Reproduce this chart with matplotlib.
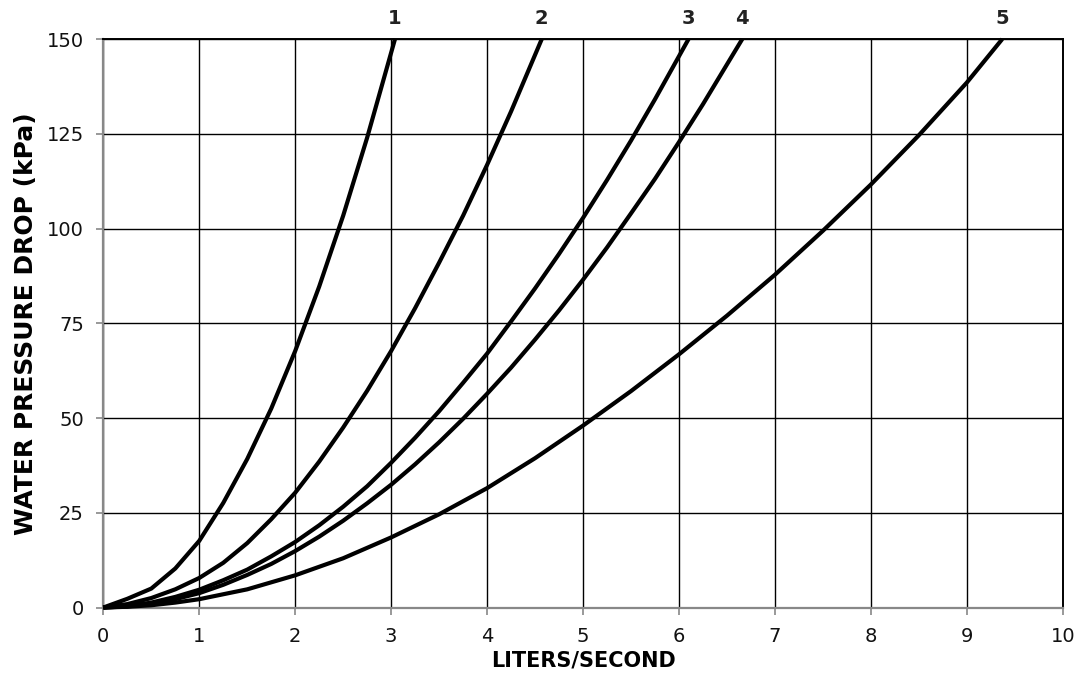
import matplotlib
matplotlib.use("Agg")
import matplotlib.pyplot as plt

plt.rcParams['font.family'] = ['DejaVu Sans']

# Curve data (liters/second vs water pressure drop kPa)
c1_x = [0, 0.25, 0.5, 0.75, 1.0, 1.25, 1.5, 1.75, 2.0, 2.25, 2.5, 2.75, 3.04]
c1_y = [0, 2.3, 5.0, 10.3, 17.6, 27.6, 39.2, 52.5, 67.7, 84.7, 103.4, 124.0, 150]

c2_x = [0, 0.25, 0.5, 0.75, 1.0, 1.25, 1.5, 1.75, 2.0, 2.25, 2.5, 2.75, 3.0, 3.25, 3.5, 3.75, 4.0, 4.25, 4.57]
c2_y = [0, 0.9, 2.5, 4.8, 7.8, 11.8, 17.0, 23.3, 30.3, 38.5, 47.5, 57.2, 67.7, 79.0, 91.0, 103.4, 116.8, 130.9, 150]

c3_x = [0, 0.25, 0.5, 0.75, 1.0, 1.25, 1.5, 1.75, 2.0, 2.25, 2.5, 2.75, 3.0, 3.25, 3.5, 3.75, 4.0,
        4.25, 4.5, 4.75, 5.0, 5.25, 5.5, 5.75, 6.1]
c3_y = [0, 0.35, 1.3, 2.8, 4.7, 7.2, 10.0, 13.5, 17.3, 21.7, 26.6, 32.0, 38.2, 44.8, 51.8, 59.3, 67.0,
        75.5, 84.2, 93.3, 102.8, 112.8, 123.2, 134.1, 150]

c4_x = [0, 0.25, 0.5, 0.75, 1.0, 1.25, 1.5, 1.75, 2.0, 2.25, 2.5, 2.75, 3.0, 3.25, 3.5, 3.75, 4.0,
        4.25, 4.5, 4.75, 5.0, 5.25, 5.5, 5.75, 6.0, 6.25, 6.66]
c4_y = [0, 0.28, 1.0, 2.2, 3.8, 6.0, 8.6, 11.5, 14.9, 18.7, 22.9, 27.5, 32.4, 37.8, 43.6, 49.8, 56.4,
        63.3, 70.7, 78.4, 86.5, 95.0, 104.0, 113.1, 122.8, 132.8, 150]

c5_x = [0, 0.25, 0.5, 0.75, 1.0, 1.5, 2.0, 2.5, 3.0, 3.5, 4.0, 4.5, 5.0, 5.5, 6.0, 6.5, 7.0, 7.5,
        8.0, 8.5, 9.0, 9.37]
c5_y = [0, 0.2, 0.6, 1.3, 2.2, 4.8, 8.5, 13.0, 18.5, 24.6, 31.5, 39.4, 48.0, 57.1, 66.8, 77.0, 87.8, 99.4,
        111.6, 124.6, 138.5, 150]

curves = [(c1_x, c1_y), (c2_x, c2_y), (c3_x, c3_y), (c4_x, c4_y), (c5_x, c5_y)]
curve_labels = ['1', '2', '3', '4', '5']

x_ticks = [0, 1, 2, 3, 4, 5, 6, 7, 8, 9, 10]
y_ticks = [0, 25, 50, 75, 100, 125, 150]

fig = plt.figure(figsize=(10.81, 6.81), dpi=100)
ax = fig.add_axes([0.0956, 0.1079, 0.8875, 0.8348])

ax.set_xlim(0, 10)
ax.set_ylim(0, 150)
ax.set_xticks(x_ticks)
ax.set_yticks(y_ticks)
ax.grid(True, color='black', linewidth=1.0, zorder=1)
ax.set_axisbelow(True)

for (xs, ys), lab in zip(curves, curve_labels):
    ax.plot(xs, ys, color='black', linewidth=3.0, solid_joinstyle='round',
            solid_capstyle='butt', zorder=3, clip_on=False)
    ax.annotate(lab, xy=(xs[-1], 150), xytext=(0, 8), textcoords='offset points',
                ha='center', va='bottom', fontsize=14, fontweight='bold', color='#222222')

for s in ['left', 'bottom']:
    ax.spines[s].set_color('#888888')
    ax.spines[s].set_linewidth(1.6)
for s in ['top', 'right']:
    ax.spines[s].set_color('black')
    ax.spines[s].set_linewidth(1.4)

ax.tick_params(axis='both', direction='out', length=5, width=1.2, color='#888888',
               labelsize=14, labelcolor='#111111')
ax.tick_params(axis='x', pad=9)
ax.tick_params(axis='y', pad=9)

ax.set_xlabel('LITERS/SECOND', fontsize=15, fontweight='bold', labelpad=3)
ax.set_ylabel('WATER PRESSURE DROP (kPa)', fontsize=18, fontweight='bold', labelpad=6)

fig.savefig('out.png', dpi=100)
